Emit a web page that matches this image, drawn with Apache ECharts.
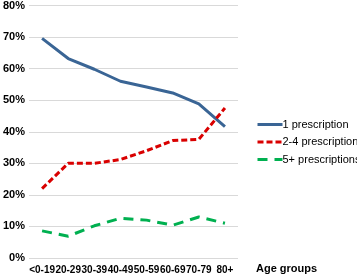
<!DOCTYPE html>
<html><head><meta charset="utf-8">
<script src="https://cdn.jsdelivr.net/npm/echarts@6/dist/echarts.min.js"></script>
<style>html,body{margin:0;padding:0;background:#fff}#c{width:357px;height:277px}</style>
</head><body><div id="c"></div>
<script>
const categories = ['<0-19','20-29','30-39','40-49','50-59','60-69','70-79','80+'];
const one = [69.6, 63.2, 59.8, 56.0, 54.2, 52.3, 48.8, 41.6];
const twoFour = [22.0, 30.0, 30.0, 31.2, 34.0, 37.2, 37.6, 47.5];
const fivePlus = [8.6, 6.9, 10.2, 12.6, 12.0, 10.4, 13.0, 11.0];
const yTicks = [0, 10, 20, 30, 40, 50, 60, 70, 80];
const names = ['1 prescription', '2-4 prescriptions', '5+ prescriptions'];
const font = 'Liberation Sans, Arial, sans-serif';
const chart = echarts.init(document.getElementById('c'));
chart.setOption({
  animation: false,
  grid: {left: 29, right: 119, top: 4, bottom: 19},
  legend: {
    orient: 'vertical', left: 251, top: 114, itemWidth: 25, itemHeight: 12, itemGap: 6.5,
    itemStyle: {opacity: 0},
    lineStyle: {width: 3},
    textStyle: {fontFamily: font, fontSize: 11, color: '#000', padding: [0,0,0,-5]},
    data: names
  },
  graphic: [{type: 'text', left: 256, top: 263, style: {text: 'Age groups', font: 'bold 11px ' + font, fill: '#000'}}],
  xAxis: {
    type: 'category', data: categories, boundaryGap: true,
    axisLine: {show: false}, axisTick: {show: false},
    axisLabel: {fontFamily: font, fontSize: 10, fontWeight: 'bold', color: '#000', interval: 0, margin: 7}
  },
  yAxis: {
    type: 'value', min: yTicks[0], max: yTicks[yTicks.length-1], interval: 10,
    axisLine: {show: false}, axisTick: {show: false},
    splitLine: {lineStyle: {color: '#d9d9d9', width: 1}},
    axisLabel: {fontFamily: font, fontSize: 11, fontWeight: 'bold', color: '#000', margin: 4,
      formatter: v => v + '%'}
  },
  series: [
    {name: names[0], type: 'line', data: one, symbol: 'none',
      lineStyle: {color: '#3a6595', width: 3}, itemStyle: {color: '#3a6595'}},
    {name: names[1], type: 'line', data: twoFour, symbol: 'none',
      lineStyle: {color: '#d90000', width: 3, type: [6, 3]}, itemStyle: {color: '#d90000'}},
    {name: names[2], type: 'line', data: fivePlus, symbol: 'none',
      lineStyle: {color: '#00b050', width: 3, type: [10, 7]}, itemStyle: {color: '#00b050'}}
  ]
});
</script></body></html>
